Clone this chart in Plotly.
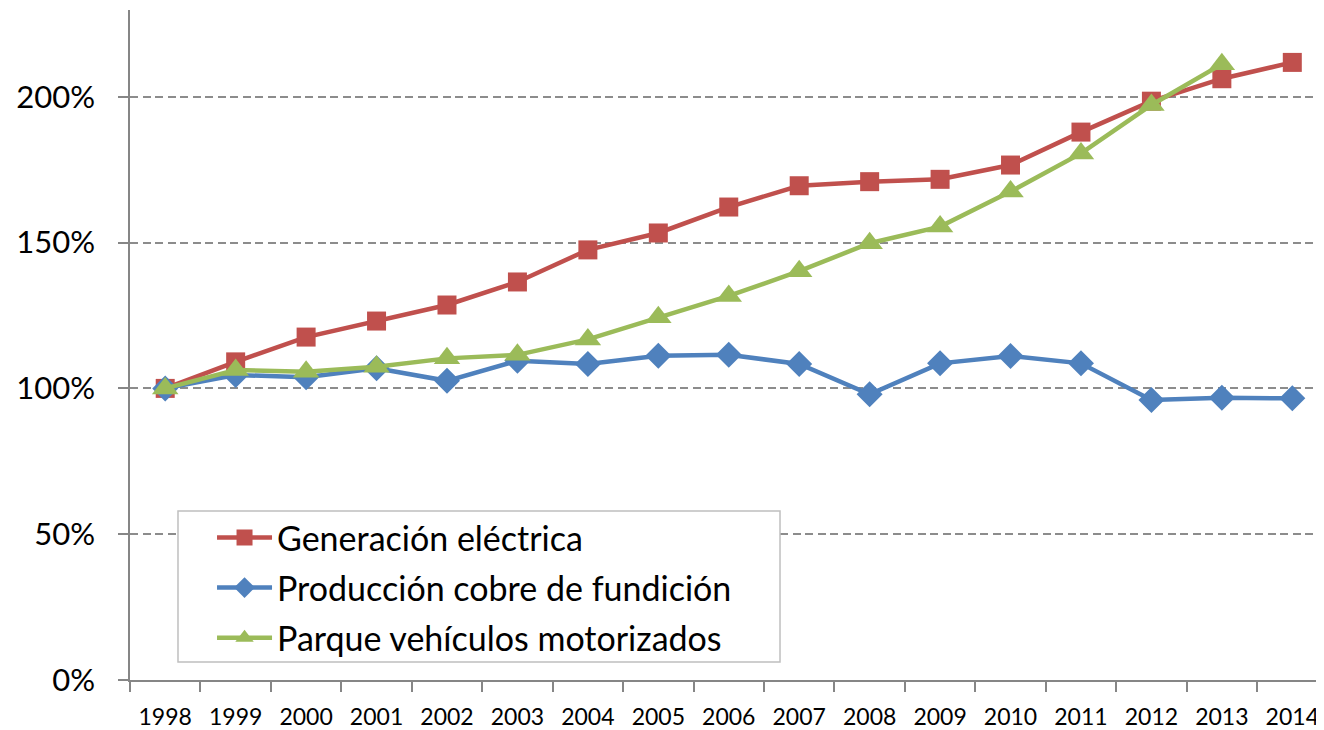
import plotly.graph_objects as go

years = ["1998", "1999", "2000", "2001", "2002", "2003", "2004", "2005", "2006",
         "2007", "2008", "2009", "2010", "2011", "2012", "2013", "2014"]
generacion = [1.00, 1.091, 1.176, 1.231, 1.286, 1.365, 1.475, 1.533, 1.622,
              1.695, 1.709, 1.717, 1.766, 1.879, 1.985, 2.062, 2.118]
cobre = [1.00, 1.046, 1.038, 1.069, 1.026, 1.095, 1.084, 1.112, 1.115,
         1.084, 0.980, 1.086, 1.111, 1.086, 0.960, 0.968, 0.966]
vehiculos = [1.00, 1.063, 1.057, 1.074, 1.103, 1.115, 1.168, 1.244, 1.317,
             1.402, 1.498, 1.555, 1.675, 1.806, 1.972, 2.112]
names = ["Generación eléctrica", "Producción cobre de fundición", "Parque vehículos motorizados"]
colors = ["#C0504D", "#4F81BD", "#9BBB59"]
FONT = "Lato, 'Liberation Sans', sans-serif"

fig = go.Figure()
fig.add_trace(go.Scatter(x=years, y=generacion, name=names[0], mode="lines+markers",
                         legendgroup="a",
                         line=dict(color=colors[0], width=4.5),
                         marker=dict(symbol="square", size=19, color=colors[0])))
fig.add_trace(go.Scatter(x=years, y=cobre, name=names[1], mode="lines+markers",
                         legendgroup="b",
                         line=dict(color=colors[1], width=4.5),
                         marker=dict(symbol="diamond", size=20, color=colors[1])))
fig.add_trace(go.Scatter(x=years[:len(vehiculos)], y=vehiculos, name=names[2], mode="lines+markers",
                         legendgroup="c",
                         line=dict(color=colors[2], width=4.5),
                         marker=dict(symbol="triangle-up", size=23, color=colors[2])))

# legend frame
fig.add_shape(type="rect", xref="paper", yref="paper",
              x0=0.0402, x1=0.5444, y0=0.0269, y1=0.2522,
              line=dict(color="#BFBFBF", width=1.5), fillcolor="white", layer="above")

fig.update_layout(
    width=1316, height=722,
    margin=dict(l=122, r=0, t=2, b=50),
    plot_bgcolor="white", paper_bgcolor="white",
    font=dict(family=FONT, color="black"),
    showlegend=True,
    legend=dict(x=0.0687, y=0.2555, xanchor="left", yanchor="top",
                borderwidth=0, bgcolor="rgba(0,0,0,0)",
                font=dict(size=34, family=FONT), traceorder="grouped",
                tracegroupgap=3, itemwidth=55),
    xaxis=dict(type="category", range=[-0.5, 16.45], showgrid=False,
               showline=True, linecolor="#868686", linewidth=1.5,
               ticks="outside", tickson="boundaries", ticklen=10, tickwidth=1.5,
               tickcolor="#868686", tickfont=dict(size=23, family=FONT),
               ticklabelstandoff=16),
    yaxis=dict(range=[0, 2.2977], tickvals=[0, 0.5, 1.0, 1.5, 2.0],
               ticktext=["0%", "50%", "100%", "150%", "200%"],
               showgrid=True, gridcolor="#8C8C8C", gridwidth=2, griddash="8px,4.5px",
               showline=True, linecolor="#868686", linewidth=1.5,
               ticks="outside", ticklen=10, tickwidth=1.5, tickcolor="#868686",
               tickfont=dict(size=31, family=FONT), zeroline=False,
               ticklabelstandoff=17),
)

fig.write_html("out.html")
